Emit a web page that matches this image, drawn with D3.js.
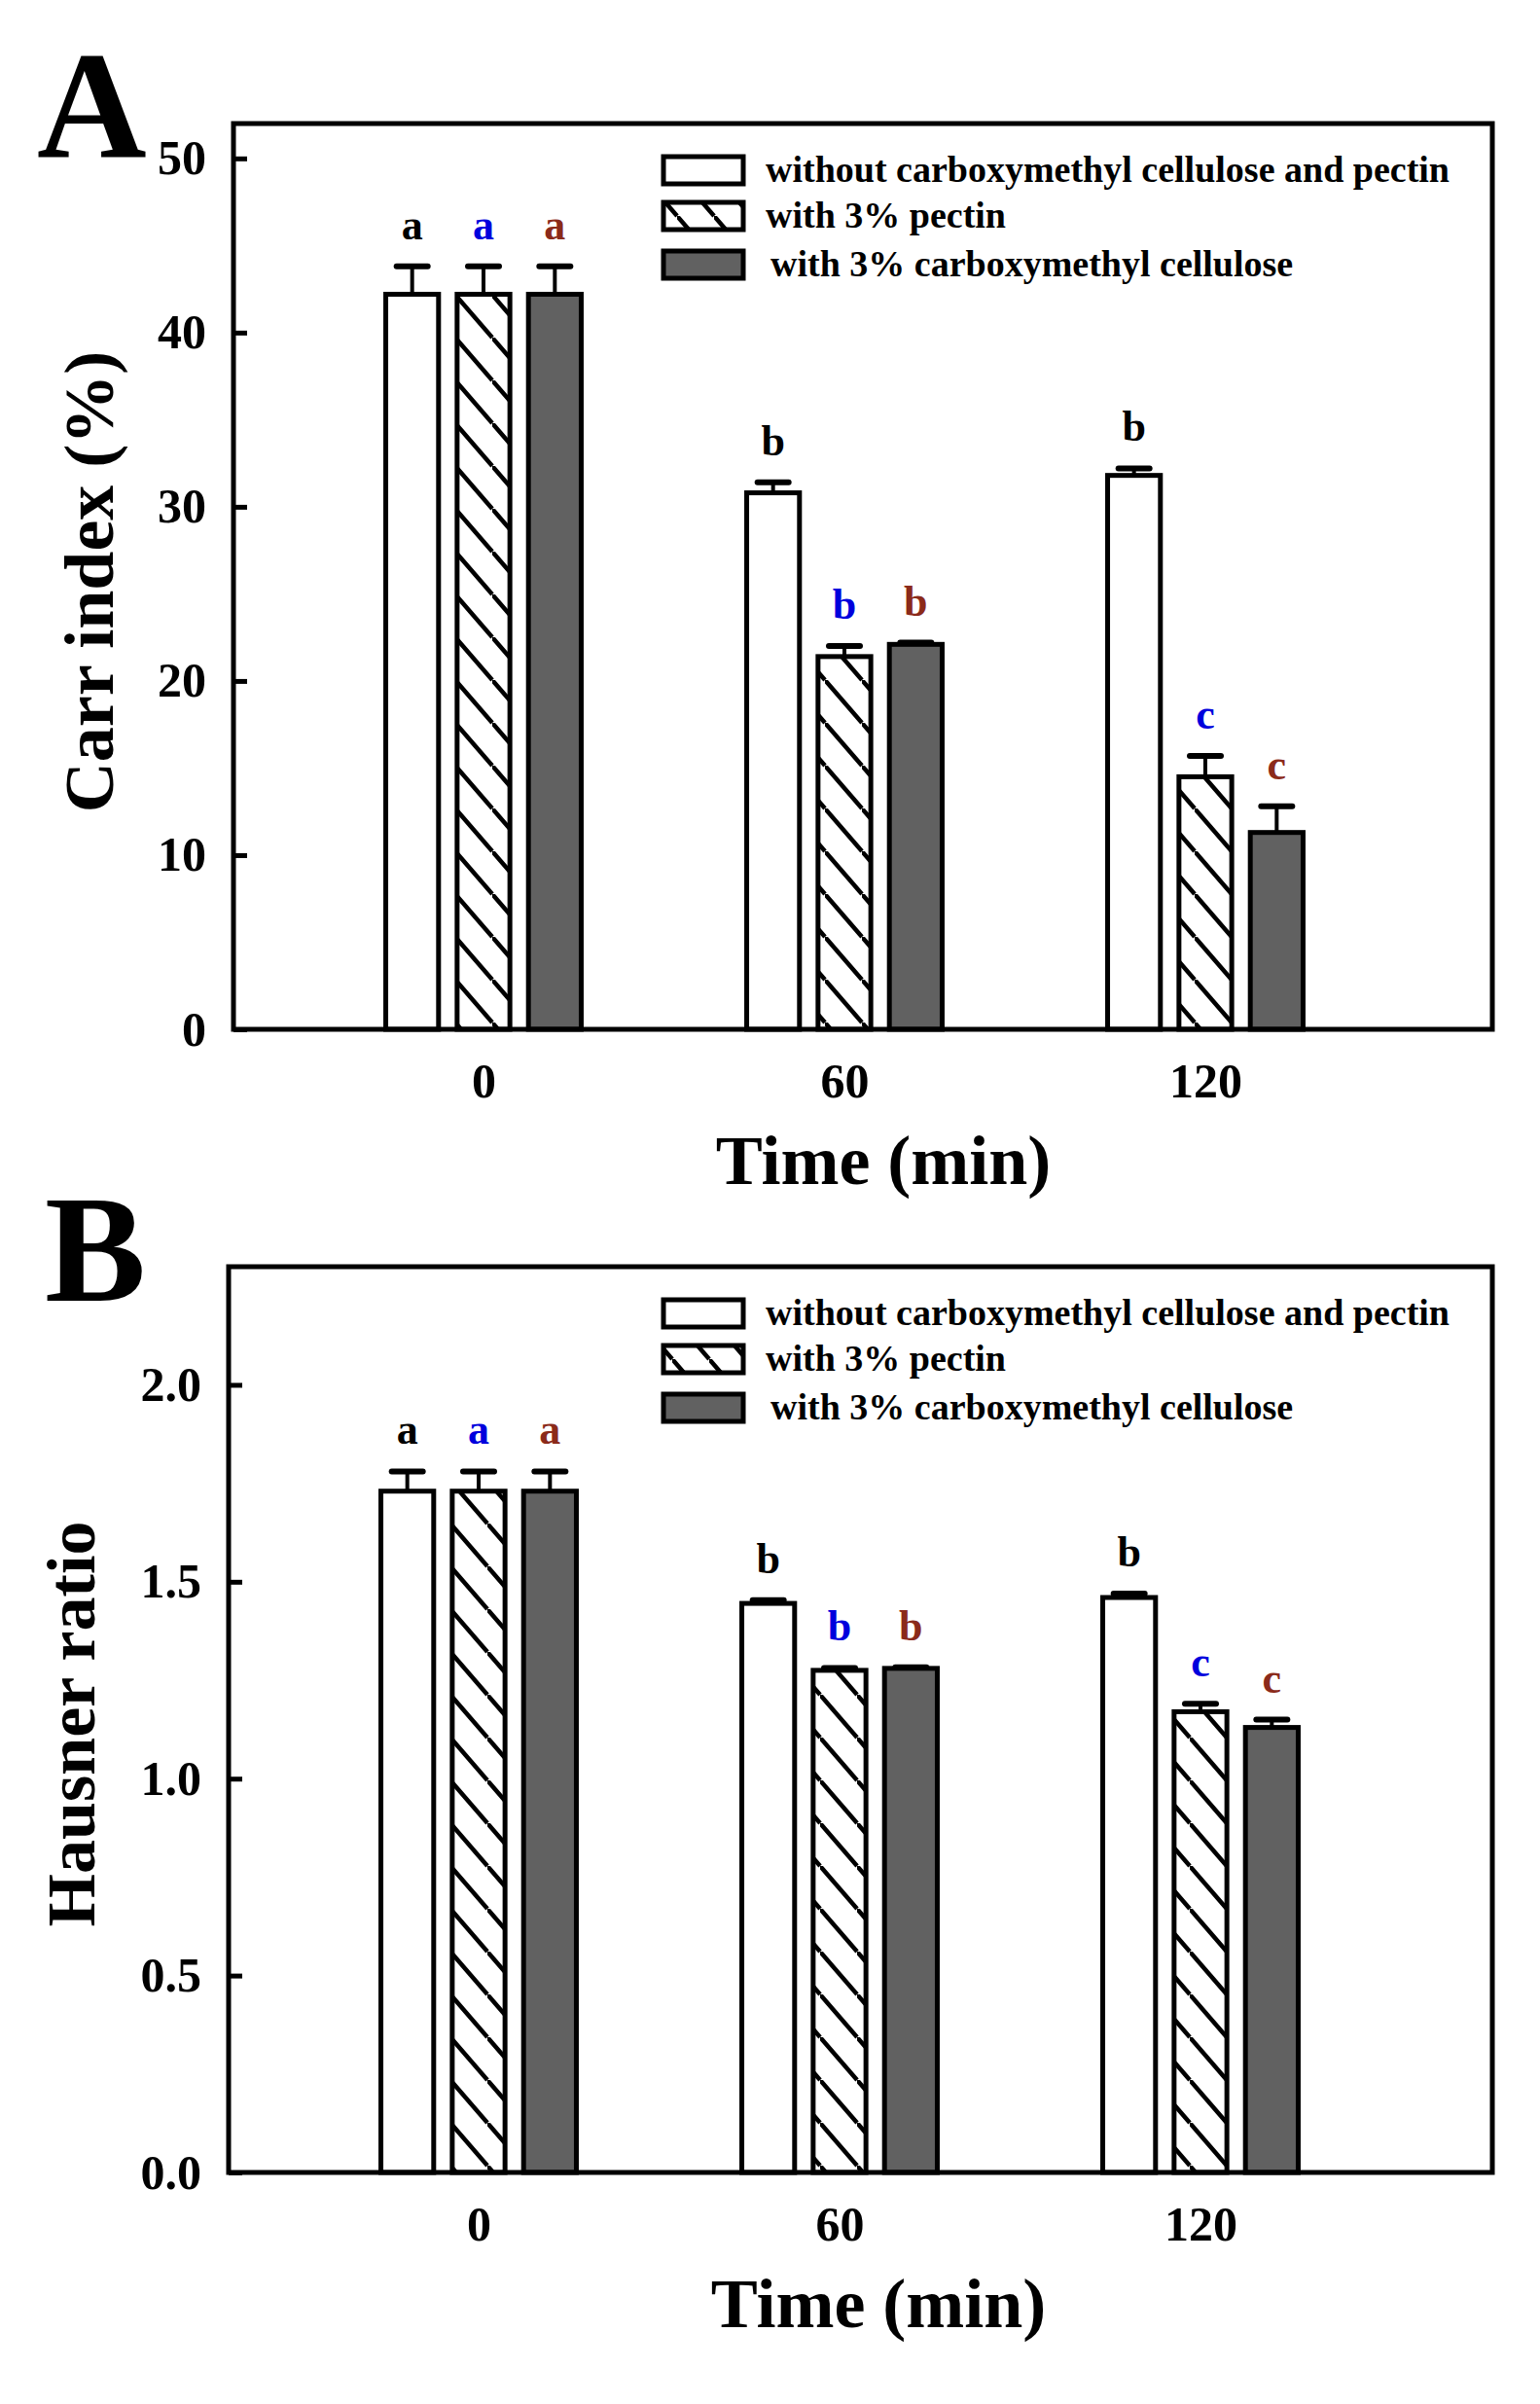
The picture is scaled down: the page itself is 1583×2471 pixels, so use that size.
<!DOCTYPE html>
<html>
<head>
<meta charset="utf-8">
<script src="https://cdn.jsdelivr.net/npm/d3@7"></script>
<style>
  body { margin: 0; background: #fff; }
  svg text { font-family: "Liberation Serif", "Times New Roman", serif; font-weight: bold; }
</style>
</head>
<body>
<div id="chart"></div>
<script>
// data
const times = ["0", "60", "120"];
const series = [
  "without carboxymethyl cellulose and pectin",
  "with 3% pectin",
  "with 3% carboxymethyl cellulose"
];

// Carr index (%)
const carrControl = [42.2, 30.8, 31.8];
const carrPectin  = [42.2, 21.4, 14.5];
const carrCmc     = [42.2, 22.1, 11.3];
const carrControlErr = [1.6, 0.6, 0.4];
const carrPectinErr  = [1.6, 0.6, 1.2];
const carrCmcErr     = [1.6, 0.1, 1.5];
const carrTicks = [0, 10, 20, 30, 40, 50];

// Hausner ratio
const hausControl = [1.73, 1.445, 1.46];
const hausPectin  = [1.73, 1.275, 1.17];
const hausCmc     = [1.73, 1.28, 1.13];
const hausControlErr = [0.05, 0.008, 0.01];
const hausPectinErr  = [0.05, 0.006, 0.02];
const hausCmcErr     = [0.05, 0.003, 0.02];
const hausTicks = [0, 0.5, 1.0, 1.5, 2.0];

// significance letters
const lettersControl = ["a", "b", "b"];
const lettersPectin  = ["a", "b", "c"];
const lettersCmc     = ["a", "b", "c"];

const W = 1583, H = 2471;
const fills = ["#ffffff", "url(#hatch)", "#616161"];
const letterColors = ["#000000", "#0000dd", "#8b2a1a"];

const svg = d3.select("#chart")
  .append("svg")
  .attr("width", W)
  .attr("height", H);

svg.append("rect").attr("width", W).attr("height", H).attr("fill", "#fff");

// hatch pattern for the pectin bars
const pat = svg.append("defs").append("pattern")
  .attr("id", "hatch")
  .attr("patternUnits", "userSpaceOnUse")
  .attr("width", 38)
  .attr("height", 44);
pat.append("rect").attr("width", 38).attr("height", 44).attr("fill", "#fff");
pat.append("path")
  .attr("d", "M-3.8,-4.4L41.8,48.4M-38,0L0,44M0,-44L38,0")
  .attr("stroke", "#000")
  .attr("stroke-width", 4.5);

function drawPanel(p) {
  const width = p.right - p.left;
  const height = p.bottom - p.top;
  const g = svg.append("g").attr("transform", `translate(${p.left},${p.top})`);

  const x = d3.scalePoint().domain(times).range([257, 999]);
  const sub = d3.scaleBand().domain(series).range([-110, 110])
    .paddingInner(0.26).paddingOuter(0.13);
  const y = d3.scaleLinear().domain(p.yDomain).range([height, 0]);

  // y axis, ticks pointing in
  g.append("g")
    .call(d3.axisLeft(y).tickValues(p.ticks).tickFormat(d3.format(p.fmt))
      .tickSizeInner(-14).tickSizeOuter(0).tickPadding(28))
    .call(ax => ax.select(".domain").remove())
    .call(ax => ax.selectAll("line").attr("stroke", "#000").attr("stroke-width", 5))
    .call(ax => ax.selectAll("text").attr("font-size", 50).attr("font-family", null).attr("fill", "#000"));

  // x axis labels only
  g.append("g")
    .attr("transform", `translate(0,${height})`)
    .call(d3.axisBottom(x).tickSize(0).tickPadding(34))
    .call(ax => ax.select(".domain").remove())
    .call(ax => ax.selectAll("text").attr("font-size", 50).attr("font-family", null).attr("fill", "#000"));

  const rows = [];
  series.forEach((s, si) => {
    times.forEach((t, ti) => {
      rows.push({ s, si, t, v: p.means[si][ti], e: p.errs[si][ti], l: p.letters[si][ti] });
    });
  });

  const bar = g.selectAll(".bar").data(rows).enter().append("g");

  bar.append("rect")
    .attr("x", d => x(d.t) + sub(d.s))
    .attr("y", d => y(d.v))
    .attr("width", sub.bandwidth())
    .attr("height", d => height - y(d.v))
    .attr("fill", d => fills[d.si])
    .attr("stroke", "#000")
    .attr("stroke-width", 5);

  bar.append("line")
    .attr("x1", d => x(d.t) + sub(d.s) + sub.bandwidth() / 2)
    .attr("x2", d => x(d.t) + sub(d.s) + sub.bandwidth() / 2)
    .attr("y1", d => y(d.v))
    .attr("y2", d => y(d.v + d.e))
    .attr("stroke", "#000")
    .attr("stroke-width", 4);

  bar.append("line")
    .attr("x1", d => x(d.t) + sub(d.s) + sub.bandwidth() / 2 - 16)
    .attr("x2", d => x(d.t) + sub(d.s) + sub.bandwidth() / 2 + 16)
    .attr("y1", d => y(d.v + d.e))
    .attr("y2", d => y(d.v + d.e))
    .attr("stroke", "#000")
    .attr("stroke-width", 6)
    .attr("stroke-linecap", "round");

  bar.append("text")
    .attr("x", d => x(d.t) + sub(d.s) + sub.bandwidth() / 2)
    .attr("y", d => y(d.v + d.e) - 28)
    .attr("text-anchor", "middle")
    .attr("font-size", 44)
    .attr("fill", d => letterColors[d.si])
    .text(d => d.l);

  // frame
  g.append("rect")
    .attr("width", width)
    .attr("height", height)
    .attr("fill", "none")
    .attr("stroke", "#000")
    .attr("stroke-width", 5);

  // legend
  const rowY = [48, 95, 145];
  const leg = g.selectAll(".leg").data(series).enter().append("g")
    .attr("transform", (d, i) => `translate(0,${rowY[i]})`);
  leg.append("rect")
    .attr("x", 682 - p.left)
    .attr("y", -14)
    .attr("width", 82)
    .attr("height", 28)
    .attr("fill", (d, i) => fills[i])
    .attr("stroke", "#000")
    .attr("stroke-width", 5);
  leg.append("text")
    .attr("x", (d, i) => (i === 2 ? 792 : 787) - p.left)
    .attr("y", 12)
    .attr("font-size", 38)
    .attr("fill", "#000")
    .text(d => d);

  // axis titles
  svg.append("text")
    .attr("transform", `translate(${p.yTitleX},${p.yTitleY}) rotate(-90)`)
    .attr("text-anchor", "middle")
    .attr("font-size", p.yTitleSize)
    .text(p.yTitle);

  svg.append("text")
    .attr("x", p.left + 668)
    .attr("y", p.bottom + 159)
    .attr("text-anchor", "middle")
    .attr("font-size", 72)
    .text("Time (min)");

  svg.append("text")
    .attr("x", p.letterX)
    .attr("y", p.letterY)
    .attr("font-size", 156)
    .text(p.letter);
}

drawPanel({
  left: 240, right: 1534, top: 127, bottom: 1058,
  yDomain: [0, 52], ticks: carrTicks, fmt: "d",
  means: [carrControl, carrPectin, carrCmc],
  errs: [carrControlErr, carrPectinErr, carrCmcErr],
  letters: [lettersControl, lettersPectin, lettersCmc],
  yTitle: "Carr index (%)", yTitleX: 116, yTitleY: 598, yTitleSize: 72,
  letter: "A", letterX: 38, letterY: 161
});

drawPanel({
  left: 235, right: 1534, top: 1302, bottom: 2233,
  yDomain: [0, 2.3], ticks: hausTicks, fmt: ".1f",
  means: [hausControl, hausPectin, hausCmc],
  errs: [hausControlErr, hausPectinErr, hausCmcErr],
  letters: [lettersControl, lettersPectin, lettersCmc],
  yTitle: "Hausner ratio", yTitleX: 97, yTitleY: 1772, yTitleSize: 70,
  letter: "B", letterX: 46, letterY: 1337
});
</script>
</body>
</html>
